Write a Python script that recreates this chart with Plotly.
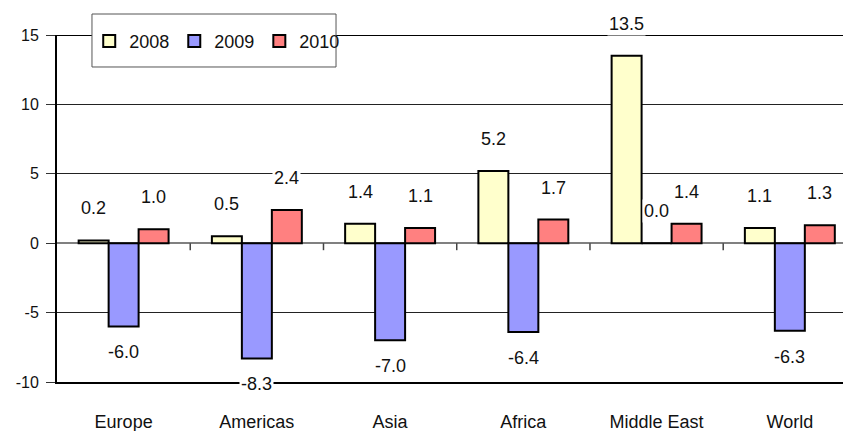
import plotly.graph_objects as go

# Regional growth, percent change per year
regions = ["Europe", "Americas", "Asia", "Africa", "Middle East", "World"]
years = ["2008", "2009", "2010"]
values_2008 = [0.2, 0.5, 1.4, 5.2, 13.5, 1.1]
values_2009 = [-6.0, -8.3, -7.0, -6.4, 0.0, -6.3]
values_2010 = [1.0, 2.4, 1.1, 1.7, 1.4, 1.3]
y_ticks = [-10, -5, 0, 5, 10, 15]

series = [values_2008, values_2009, values_2010]
fills = ["#FFFFCC", "#9999FF", "#FF8080"]

FONT = "Liberation Sans, Arial, sans-serif"
BARGAP = 0.325
bar_w = (1 - BARGAP) / len(years)

fig = go.Figure()
for name, vals, color in zip(years, series, fills):
    fig.add_trace(go.Bar(
        x=regions, y=vals, name=name,
        marker=dict(color=color, line=dict(color="black", width=2)),
        hoverinfo="skip",
    ))

# value labels: above bars (including zero), below negative bars
annotations = []
for k, vals in enumerate(series):
    offset = (k - (len(years) - 1) / 2) * bar_w
    for i, v in enumerate(vals):
        annotations.append(dict(
            x=i + offset, y=v, xref="x", yref="y",
            text=f"{v:.1f}", showarrow=False,
            yanchor="middle", yshift=32 if v >= 0 else -26,
            font=dict(family=FONT, size=18, color="#111"),
            bgcolor="white", borderpad=1,
        ))

shapes = []
# heavy top rule at 15
shapes.append(dict(type="line", xref="paper", yref="y", x0=0, x1=1, y0=15, y1=15,
                   line=dict(color="black", width=2), layer="below"))
# small ticks below the zero line between categories
for i in range(len(regions) - 1):
    shapes.append(dict(type="line", xref="x", yref="y", ysizemode="pixel", yanchor=0,
                       x0=i + 0.5, x1=i + 0.5, y0=0, y1=-7,
                       line=dict(color="#444", width=1.5)))
# legend frame
shapes.append(dict(type="rect", xref="paper", yref="paper",
                   x0=0.0445, x1=0.355, y0=0.9078, y1=1.0605,
                   line=dict(color="#555", width=1), fillcolor="white", layer="above"))

fig.update_layout(
    width=843, height=431,
    margin=dict(l=57, r=0, t=35, b=49),
    paper_bgcolor="white", plot_bgcolor="white",
    barmode="group", bargap=BARGAP, bargroupgap=0,
    font=dict(family=FONT, size=16, color="#111"),
    showlegend=True,
    legend=dict(orientation="h", x=0.041, xanchor="left", y=1.035, yanchor="top",
                font=dict(family=FONT, size=18, color="#111"),
                bgcolor="rgba(0,0,0,0)", borderwidth=0, traceorder="normal"),
    annotations=annotations,
    shapes=shapes,
)
fig.update_xaxes(
    type="category", range=[-0.5, 5.399],
    showline=True, linecolor="black", linewidth=2, mirror=False,
    ticks="", showgrid=False, zeroline=False,
    tickfont=dict(family=FONT, size=18, color="#111"),
    ticklabelstandoff=22,
)
fig.update_yaxes(
    range=[-10, 15], tickvals=y_ticks, ticktext=[str(t) for t in y_ticks],
    showline=True, linecolor="black", linewidth=2,
    ticks="outside", ticklen=9, tickwidth=1, tickcolor="#333",
    showgrid=True, gridcolor="#222", gridwidth=1,
    zeroline=True, zerolinecolor="#808080", zerolinewidth=2,
    tickfont=dict(family=FONT, size=16, color="#111"),
    ticklabelstandoff=4,
)

fig.write_html("out.html")
